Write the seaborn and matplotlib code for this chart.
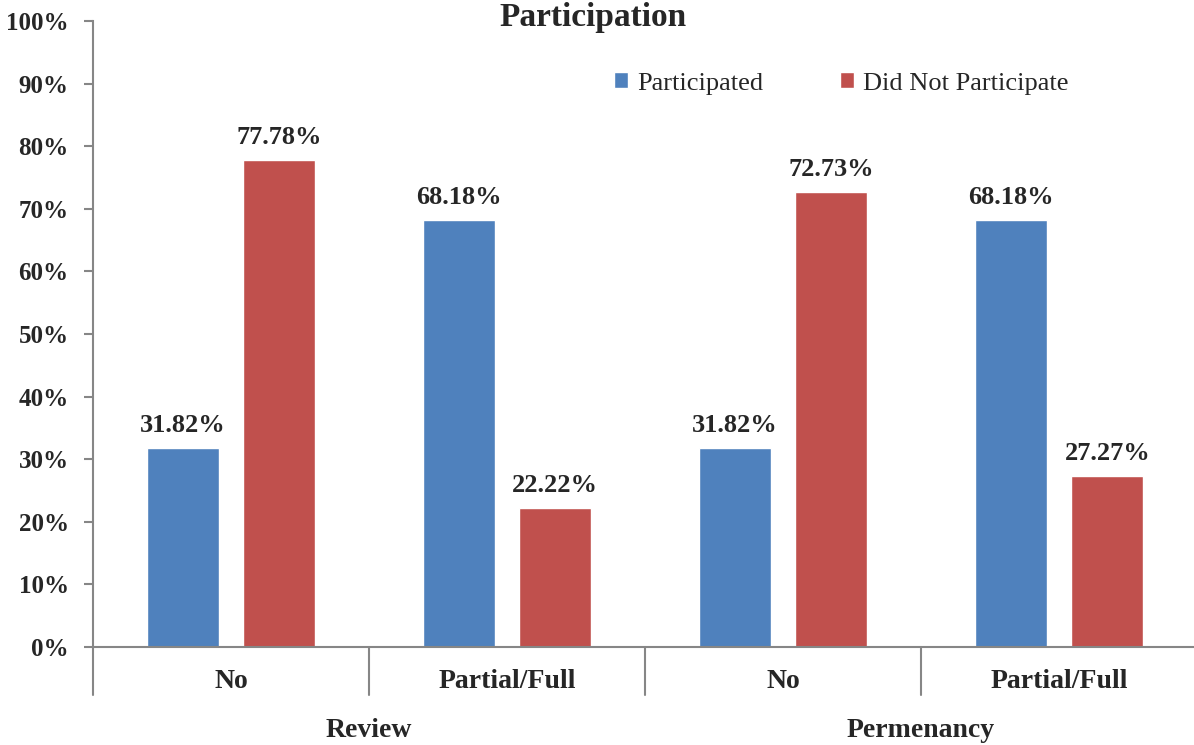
import matplotlib
matplotlib.use("Agg")
import matplotlib.pyplot as plt
import matplotlib.transforms as mtransforms
import pandas as pd
import seaborn as sns

# values
groups = ["Review", "Review", "Permenancy", "Permenancy"]
sub_labels = ["No", "Partial/Full", "No", "Partial/Full"]
participated = [31.82, 68.18, 31.82, 68.18]
did_not = [77.78, 22.22, 72.73, 27.27]
series = ["Participated", "Did Not Participate"]
colors = ["#4F81BD", "#C0504D"]

keys = [f"{g} {s}" for g, s in zip(groups, sub_labels)]
df = pd.DataFrame({
    "key": keys * 2,
    "value": participated + did_not,
    "series": [series[0]] * 4 + [series[1]] * 4,
})

sns.set_theme(style="white")
plt.rcParams["font.family"] = ["Liberation Serif", "DejaVu Serif"]
axis_grey = "#868686"

fig = plt.figure(figsize=(11.94, 7.45), dpi=100)
ax = fig.add_axes([0.0779, 0.1315, 0.9246, 0.8403])

sns.barplot(data=df, x="key", y="value", hue="series", order=keys,
            hue_order=series, palette=colors, width=0.7, gap=0.255,
            saturation=1, ax=ax, legend=True)

for cont in ax.containers:
    ax.bar_label(cont, labels=[f"{v:.2f}%" for v in cont.datavalues],
                 padding=8, fontsize=19, fontweight="bold")

ax.set_xlim(-0.5, 3.5)
ax.set_ylim(0, 100)
ax.set_yticks(range(0, 101, 10))
ax.set_yticklabels([f"{v}%" for v in range(0, 101, 10)],
                   fontsize=18, fontweight="bold")
ax.set_xticks(range(4))
ax.set_xticklabels(sub_labels, fontsize=20, fontweight="bold")
ax.tick_params(axis="y", length=6.5, width=1.5, color=axis_grey, pad=11, left=True)
ax.tick_params(axis="x", length=0, pad=16)
ax.set_xlabel("")
ax.set_ylabel("")

for side in ["top", "right"]:
    ax.spines[side].set_visible(False)
for side in ["left", "bottom"]:
    ax.spines[side].set_color(axis_grey)
    ax.spines[side].set_linewidth(1.5)

# category separators below the axis
trans = mtransforms.blended_transform_factory(ax.transData, ax.transAxes)
for xs in [-0.5, 0.5, 1.5, 2.5, 3.5]:
    ax.plot([xs, xs], [0, -0.077], transform=trans, color=axis_grey,
            lw=1.5, clip_on=False)

for xg, name in [(0.5, "Review"), (2.5, "Permenancy")]:
    ax.text(xg, -0.134, name, transform=trans, ha="center", va="center",
            fontsize=20, fontweight="bold")

fig.text(0.497, 0.977, "Participation", ha="center", va="center",
         fontsize=24, fontweight="bold")

ax.legend(loc="center left", bbox_to_anchor=(0.514, 0.888),
          bbox_transform=fig.transFigure, ncol=2, frameon=False,
          fontsize=19, handlelength=0.56, handleheight=0.56,
          handletextpad=0.32, columnspacing=2.9,
          borderpad=0, borderaxespad=0)

fig.savefig("out.png", dpi=100)
